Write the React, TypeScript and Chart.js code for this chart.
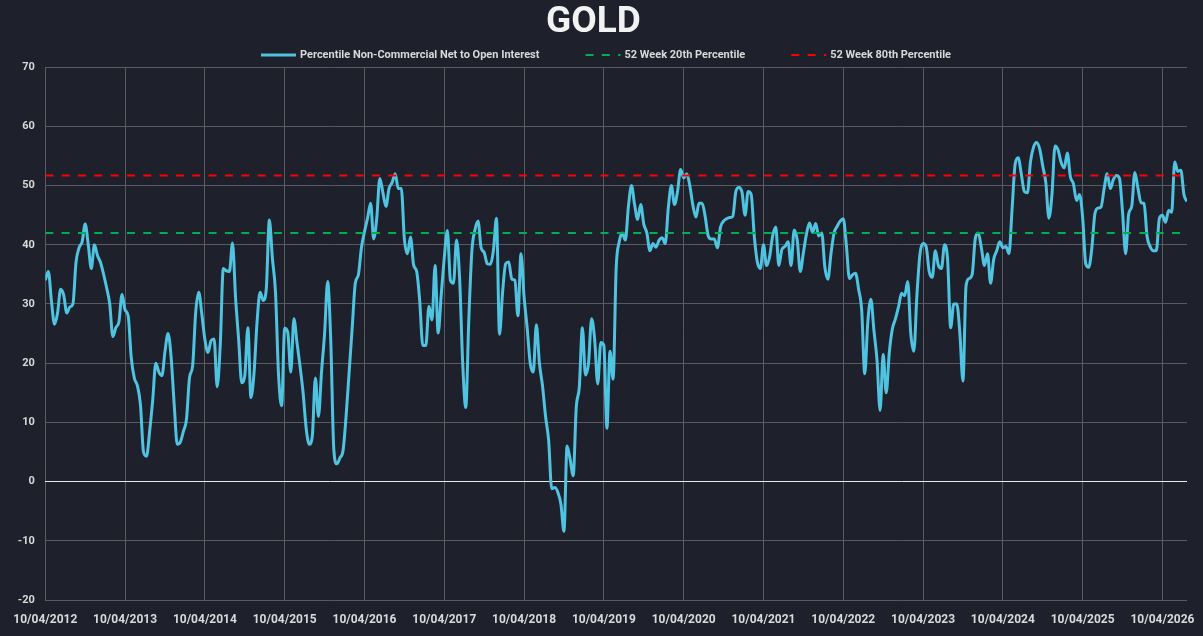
import { useEffect, useRef } from "react";
import { Chart, registerables } from "chart.js";
import type { Plugin } from "chart.js";

Chart.register(...registerables);

// one tick per year, series sampled every 2 weeks (26 per year)
const yearLabels = [
  "10/04/2012", "10/04/2013", "10/04/2014", "10/04/2015", "10/04/2016",
  "10/04/2017", "10/04/2018", "10/04/2019", "10/04/2020", "10/04/2021",
  "10/04/2022", "10/04/2023", "10/04/2024", "10/04/2025", "10/04/2026",
];
const samplesPerYear = 26;

const netPercentile = [
  34, 35.5, 30.5, 26.6, 28.5, 32.5, 31.5, 28.5, 29.5, 30, 37, 39.5, 40.5, 43.5, 40, 36, 40, 38.2, 37, 35, 32.7, 30, 24.5, 26, 27, 31.6,
  29, 28, 21, 17.5, 16.2, 13, 5, 4.3, 8.5, 13.8, 20, 18.5, 17.9, 22, 25, 21, 13, 6.3, 6.7, 8.5, 10.5, 17.6, 19.5, 28.6, 32, 28.3,
  24, 21.8, 23.8, 24.1, 16, 23, 36, 35.6, 35.5, 40.3, 31, 24, 16.7, 17.9, 26, 14.2, 18.3, 27, 32, 30.6, 32.5, 44.2, 37.7, 32, 18, 12.8,
  25.9, 25.2, 18.5, 27.5, 23.5, 19.5, 15, 9, 6.3, 7.7, 17.5, 11, 18.5, 25, 33.8, 24, 5.5, 3, 4, 5.2, 11, 18.5, 26, 33.5, 34.9, 39.5,
  42.2, 44.5, 47, 41, 44.5, 51.2, 48.8, 46.5, 49.5, 50.5, 52, 49.5, 49.5, 41, 38.5, 41.3, 36.6, 35.5, 30.5, 23, 23, 29.6, 27.3, 36.5, 25.1, 31.5,
  37.8, 42.4, 34, 33.5, 40.8, 34.3, 20, 12.5, 27.5, 39, 42.5, 44, 39.5, 38.7, 36.8, 36.7, 39, 44.5, 24.9, 32, 36.8, 37.1, 34.2, 34, 28, 38.5,
  31.2, 26, 20, 18.5, 26.5, 20, 16.2, 11, 7, -1.2, -1, -1.8, -3.8, -8.4, 6, 3.8, 1, 12.5, 16, 26, 18, 20, 27.5, 24, 16.5, 23.5,
  23, 9, 22, 17.3, 36, 40.5, 42, 40.8, 46.5, 50, 46.8, 44.3, 46.8, 43.5, 42, 39, 40.2, 39.6, 40.8, 41.2, 40.2, 46.3, 50, 46.8, 49, 52.7,
  51.3, 52, 50, 46.7, 44.7, 47, 47, 44.8, 41.5, 41, 41, 39.5, 43, 44, 44.4, 44.6, 44.8, 49, 49.7, 48.9, 45, 49, 48.5, 41.5, 37.1, 36,
  40, 36.5, 38, 41.5, 43, 36.5, 39.2, 39.7, 40.5, 36.5, 42.5, 40.8, 35.5, 38.6, 41.8, 43.7, 42.1, 43.6, 41.5, 42, 36.2, 34.2, 38.5, 42, 43.1, 44,
  44.4, 40, 34.3, 34.9, 35.2, 32.5, 29, 18.2, 27, 30.8, 25.5, 20.5, 12, 21.5, 15, 21.8, 25.8, 27.5, 29.5, 31.8, 31.4, 33.8, 25, 22, 31.5, 38.5,
  40.2, 39.7, 35.5, 34.5, 39, 36.5, 36, 40, 37.5, 26, 30, 30, 25, 17, 33, 34.3, 35, 41, 42, 39.5, 36.5, 38.5, 33.5, 37.5, 39, 40.5,
  39.5, 39.7, 38.5, 46, 53.6, 54.7, 52, 49, 48.8, 54, 56.5, 57.3, 56.2, 53.3, 50.5, 44.5, 48.5, 56.7, 56, 53.9, 53, 55.5, 51.5, 50.3, 47.5, 48.5,
  44.6, 36.8, 36.2, 39.5, 45.3, 46.2, 46.4, 49.5, 52, 49.5, 51, 51.7, 51.2, 45.5, 38.5, 45.2, 46.5, 52.2, 49.6, 47.1, 47, 41.4, 39.7, 39, 39, 44.5,
  45, 43.8, 45.8, 45.5, 54, 52.4, 52.6, 48.5, 47.3,
];

const percentile20 = 42.0;
const percentile80 = 51.7;

const BG = "#1e212c";
const GRID = "#595b60";
const TEXT = "#d9d9d9";
const FONT = "Roboto, 'Noto Sans', sans-serif";

// legend drawn as line samples with wide spacing, like the original
const lineLegend: Plugin<"line"> = {
  id: "lineLegend",
  afterDraw(chart) {
    const { ctx } = chart;
    const sampleW = 35;
    const textGap = 4;
    const itemGap = 46;
    ctx.save();
    ctx.font = `bold 11px ${FONT}`;
    const items = chart.data.datasets.map((ds) => ({
      ds: ds as any,
      w: ctx.measureText(String(ds.label)).width,
    }));
    const total =
      items.reduce((s, it) => s + sampleW + textGap + it.w, 0) +
      itemGap * (items.length - 1);
    let x = chart.width / 2 + 4.5 - total / 2;
    const y = 55;
    items.forEach(({ ds, w }) => {
      ctx.beginPath();
      ctx.strokeStyle = ds.borderColor;
      ctx.lineWidth = ds.borderWidth;
      ctx.lineCap = "butt";
      ctx.setLineDash(ds.borderDash || []);
      ctx.moveTo(x, y);
      ctx.lineTo(x + sampleW, y);
      ctx.stroke();
      ctx.setLineDash([]);
      ctx.fillStyle = TEXT;
      ctx.textBaseline = "middle";
      ctx.textAlign = "left";
      ctx.fillText(String(ds.label), x + sampleW + textGap, y + 0.5);
      x += sampleW + textGap + w + itemGap;
    });
    ctx.restore();
  },
};

export default function App() {
  const canvasRef = useRef<HTMLCanvasElement | null>(null);

  useEffect(() => {
    const canvas = canvasRef.current;
    if (!canvas) return;
    const lastIndex = netPercentile.length - 1;

    const chart = new Chart(canvas, {
      type: "line",
      data: {
        datasets: [
          {
            label: "Percentile Non-Commercial Net to Open Interest",
            data: netPercentile.map((v, i) => ({ x: i, y: v })),
            borderColor: "#4fc3df",
            borderWidth: 3,
            pointRadius: 0,
            cubicInterpolationMode: "monotone",
            order: 2,
          },
          {
            label: "52 Week 20th Percentile",
            data: [
              { x: 0, y: percentile20 },
              { x: lastIndex, y: percentile20 },
            ],
            borderColor: "#00b050",
            borderWidth: 2,
            borderDash: [8, 8.33],
            pointRadius: 0,
            order: 1,
          },
          {
            label: "52 Week 80th Percentile",
            data: [
              { x: 0, y: percentile80 },
              { x: lastIndex, y: percentile80 },
            ],
            borderColor: "#ff0000",
            borderWidth: 2,
            borderDash: [8, 8.33],
            pointRadius: 0,
            order: 0,
          },
        ],
      },
      options: {
        responsive: true,
        maintainAspectRatio: false,
        animation: false,
        events: [],
        layout: { padding: { left: 0, right: 16, top: 0, bottom: 0 } },
        plugins: {
          legend: { display: false },
          tooltip: { enabled: false },
          title: {
            display: true,
            text: "GOLD",
            color: "#f2f2f2",
            font: { family: FONT, size: 37, weight: "bold", lineHeight: 1.2 },
            padding: { top: 1, bottom: 21.8 },
          },
        },
        scales: {
          x: {
            type: "linear",
            min: 0,
            max: lastIndex,
            border: { display: false },
            grid: { color: GRID, drawTicks: false },
            afterFit: (scale) => {
              // fixed axis band; the end labels fit inside the page anyway
              scale.height = 36;
              scale.paddingLeft = 0;
              scale.paddingRight = 0;
            },
            ticks: {
              stepSize: samplesPerYear,
              includeBounds: false,
              autoSkip: false,
              maxRotation: 0,
              padding: 13,
              color: TEXT,
              font: { family: FONT, size: 12, weight: "bold", lineHeight: 1.2 },
              callback: (v) => yearLabels[Math.round(Number(v) / samplesPerYear)] ?? "",
            },
          },
          y: {
            min: -20,
            max: 70,
            border: { display: false },
            afterFit: (scale) => {
              scale.width = 45.3;
            },
            grid: {
              drawTicks: false,
              color: (c) => (c.tick && c.tick.value === 0 ? "#e8e8e8" : GRID),
            },
            ticks: {
              stepSize: 10,
              padding: 10.5,
              color: TEXT,
              font: { family: FONT, size: 11, weight: "bold" },
            },
          },
        },
      },
      plugins: [lineLegend],
    });

    return () => {
      chart.destroy();
    };
  }, []);

  return (
    <div
      style={{
        position: "fixed",
        left: 0,
        top: 0,
        width: 1203,
        height: 636,
        background: BG,
      }}
    >
      <canvas ref={canvasRef} />
    </div>
  );
}
